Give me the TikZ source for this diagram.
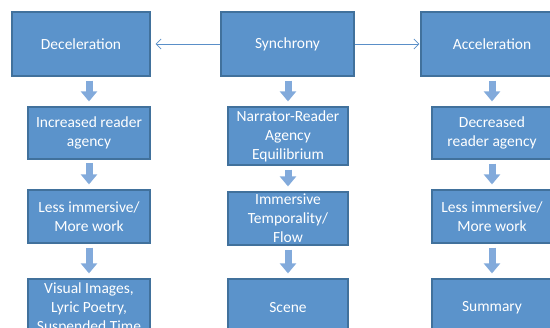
\documentclass[tikz,border=0pt]{standalone}
\usepackage{fontspec}
\setmainfont{Carlito}
\usetikzlibrary{arrows.meta}
\usetikzlibrary{shapes,positioning}
\definecolor{boxFill}{HTML}{5B93CB}
\definecolor{boxLine}{HTML}{41719C}
\definecolor{flowColor}{HTML}{82AADB}
\definecolor{linkColor}{HTML}{5A8FC8}
\tikzset{
  stage/.style={draw=boxLine, line width=1.2pt, fill=boxFill, text=white,
    font=\fontsize{15.5}{19}\selectfont, align=center, inner sep=2pt},
  flow/.style={flowColor, line width=7pt,
    -{Triangle[width=16pt,length=10pt]}, shorten <=4pt, shorten >=5pt},
  link/.style={linkColor, line width=0.8pt, -{Straight Barb[length=5pt,width=10pt]}}
}

\begin{document}
\begin{tikzpicture}[x=1pt,y=-1pt]
    \clip (0,0) rectangle (550,328);
    % top row
    \node[stage, minimum width=138pt, minimum height=64pt] (dec) at (81,44) {Deceleration};
    \node[stage, minimum width=133pt, minimum height=64pt] (sync) at (287.5,44) {Synchrony};
    \node[stage, minimum width=142pt, minimum height=64pt] (acc) at (492,44) {Acceleration};
    % left column
    \node[stage, minimum width=122pt, minimum height=52pt] (decA) at (89,133) {Increased reader\\agency};
    \node[stage, minimum width=122pt, minimum height=53pt] (decB) at (89,216.5) {Less immersive/\\More work};
    \node[stage, minimum width=122pt, minimum height=58pt] (decC) at (89,308) {Visual Images,\\Lyric Poetry,\\Suspended Time};
    % middle column
    \node[stage, minimum width=120pt, minimum height=58pt] (syncA) at (288,136) {Narrator-Reader\\Agency\\Equilibrium};
    \node[stage, minimum width=120pt, minimum height=53pt] (syncB) at (288,218.5) {Immersive\\Temporality/\\Flow};
    \node[stage, minimum width=120pt, minimum height=58pt] (syncC) at (288,308) {Scene};
    % right column
    \node[stage, minimum width=120pt, minimum height=52pt] (accA) at (492,133) {Decreased\\reader agency};
    \node[stage, minimum width=120pt, minimum height=53pt] (accB) at (492,216.5) {Less immersive/\\More work};
    \node[stage, minimum width=120pt, minimum height=58pt] (accC) at (492,308) {Summary};

    \draw[link, shorten >=5pt] (sync.west) -- (dec.east);
    \draw[link, shorten >=1pt] (sync.east) -- (acc.west);

    \draw[flow] (dec.south -| decA.north) -- (decA.north);
    \draw[flow] (decA) ++(0,26) -- (decB.north);
    \draw[flow] (decB.south) -- (decC.north);
    \draw[flow] (sync.south -| syncA.north) -- (syncA.north);
    \draw[flow] (syncA.south) -- (syncB.north);
    \draw[flow] (syncB.south) -- (syncC.north);
    \draw[flow] (acc.south) -- (accA.north);
    \draw[flow] (accA.south) -- (accB.north);
    \draw[flow] (accB.south) -- (accC.north);
\end{tikzpicture}
\end{document}
